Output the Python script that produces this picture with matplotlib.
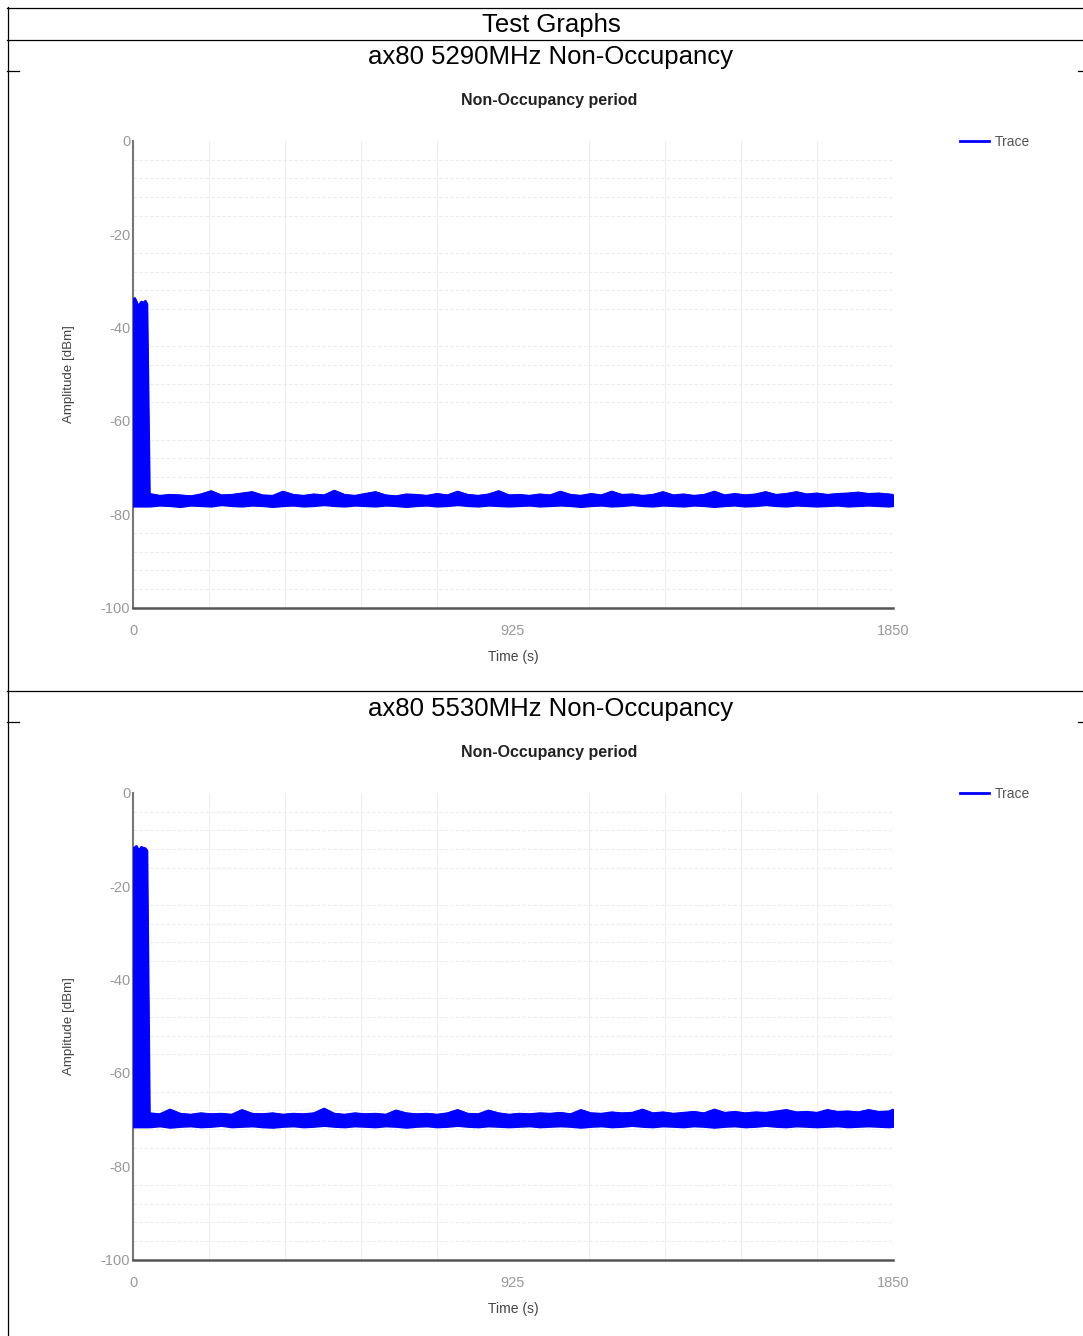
import numpy as np
import matplotlib
matplotlib.use("Agg")
import matplotlib.pyplot as plt
from matplotlib.lines import Line2D

plt.rcParams['font.family'] = ['Liberation Sans', 'DejaVu Sans']

# ---------------- data ----------------
page_title = "Test Graphs"
section_titles = ["ax80 5290MHz Non-Occupancy", "ax80 5530MHz Non-Occupancy"]
chart_title = "Non-Occupancy period"
x_label = "Time (s)"
y_label = "Amplitude [dBm]"
legend_label = "Trace"
x_ticks = [0, 925, 1850]
y_ticks = [0, -20, -40, -60, -80, -100]

# burst (first seconds) sample times and upper envelope
burst_t = [0, 4, 8, 12, 16, 20, 25, 30, 34]
burst_hi_1 = [-34.0, -33.6, -34.3, -35.3, -34.8, -34.4, -34.6, -34.2, -34.9]
burst_hi_2 = [-11.8, -11.6, -11.3, -11.9, -12.0, -11.5, -11.7, -11.8, -12.3]

# noise-floor sample times (s)
noise_t = list(range(40, 1841, 25)) + [1850]

noise_hi_1 = [-75.6, -76.0, -75.8, -75.9, -76.1, -75.7, -75.0, -75.9, -75.8, -75.5,
              -75.2, -75.9, -76.0, -75.1, -75.8, -76.0, -75.7, -75.9, -74.9, -75.8,
              -76.0, -75.6, -75.2, -75.9, -76.1, -75.7, -75.8, -76.0, -75.6, -75.9,
              -75.1, -75.8, -76.0, -75.7, -75.0, -75.9, -75.8, -76.0, -75.7, -75.9,
              -75.1, -75.8, -76.0, -75.6, -75.9, -75.1, -75.8, -75.7, -76.0, -75.8,
              -75.2, -75.9, -75.7, -76.0, -75.8, -75.1, -75.9, -75.6, -75.9, -75.7,
              -75.2, -75.8, -75.6, -75.2, -75.7, -75.5, -75.8, -75.6, -75.5, -75.3,
              -75.6, -75.5, -75.7, -75.8]
noise_lo_1 = [-78.3, -78.1, -78.2, -78.4, -78.1, -78.2, -78.3, -78.0, -78.2, -78.3,
              -78.1, -78.2, -78.4, -78.2, -78.1, -78.3, -78.2, -78.0, -78.2, -78.3,
              -78.1, -78.2, -78.3, -78.1, -78.2, -78.4, -78.2, -78.1, -78.3, -78.2,
              -78.0, -78.2, -78.3, -78.1, -78.2, -78.3, -78.2, -78.1, -78.3, -78.2,
              -78.1, -78.2, -78.4, -78.2, -78.1, -78.3, -78.2, -78.0, -78.2, -78.3,
              -78.1, -78.2, -78.3, -78.1, -78.2, -78.4, -78.2, -78.1, -78.3, -78.2,
              -78.0, -78.2, -78.3, -78.1, -78.2, -78.3, -78.2, -78.1, -78.3, -78.2,
              -78.1, -78.2, -78.3, -78.2]

noise_hi_2 = [-68.6, -68.8, -67.8, -68.7, -68.9, -68.6, -68.8, -68.7, -68.9, -67.9,
              -68.7, -68.8, -68.6, -68.9, -68.7, -68.8, -68.6, -67.6, -68.7, -68.9,
              -68.6, -68.8, -68.7, -68.9, -68.0, -68.6, -68.8, -68.7, -68.9, -68.6,
              -67.9, -68.7, -68.8, -68.0, -68.6, -68.9, -68.7, -68.8, -68.6, -68.7,
              -68.5, -68.8, -67.9, -68.6, -68.7, -68.4, -68.6, -68.5, -67.8, -68.6,
              -68.4, -68.7, -68.5, -68.3, -68.6, -67.8, -68.5, -68.3, -68.6, -68.4,
              -68.5, -68.2, -67.9, -68.4, -68.3, -68.5, -67.9, -68.3, -68.2, -68.4,
              -67.9, -68.3, -68.2, -67.8]
noise_lo_2 = [-71.6, -71.4, -71.7, -71.5, -71.4, -71.6, -71.5, -71.3, -71.6, -71.5,
              -71.4, -71.6, -71.7, -71.5, -71.4, -71.6, -71.5, -71.3, -71.5, -71.6,
              -71.4, -71.5, -71.6, -71.4, -71.5, -71.7, -71.5, -71.4, -71.6, -71.5,
              -71.3, -71.5, -71.6, -71.4, -71.5, -71.6, -71.5, -71.4, -71.6, -71.5,
              -71.4, -71.5, -71.7, -71.5, -71.4, -71.6, -71.5, -71.3, -71.5, -71.6,
              -71.4, -71.5, -71.6, -71.4, -71.5, -71.7, -71.5, -71.4, -71.6, -71.5,
              -71.3, -71.5, -71.6, -71.4, -71.5, -71.6, -71.5, -71.4, -71.6, -71.5,
              -71.4, -71.5, -71.6, -71.5]

series = [
    (burst_hi_1, noise_hi_1, noise_lo_1),
    (burst_hi_2, noise_hi_2, noise_lo_2),
]

# ---------------- figure ----------------
W, H = 1083, 1336
fig = plt.figure(figsize=(W / 100, H / 100), dpi=100)
fig.patch.set_facecolor('white')


def fx(x):
    return x / W


def fy(y):
    return 1 - y / H


def hline(y, x0, x1):
    fig.add_artist(Line2D([fx(x0), fx(x1)], [fy(y), fy(y)], transform=fig.transFigure,
                          color='black', lw=0.9))


def vline(x, y0, y1):
    fig.add_artist(Line2D([fx(x), fx(x)], [fy(y0), fy(y1)], transform=fig.transFigure,
                          color='black', lw=0.9))


# table lines
hline(7.5, 7, W)
hline(39.5, 7, W)
hline(690.5, 7, W)
vline(7.5, 7, H)
for yy in (70.5, 721.5):
    hline(yy, 7, 19)
    hline(yy, 1078, W)

fig.text(fx(551), fy(25), page_title, ha='center', va='center', fontsize=18.5, color='black')

offsets = [0, 652]
for k, (bhi, nhi, nlo) in enumerate(series):
    off = offsets[k]
    fig.text(fx(551), fy(57 + off), section_titles[k], ha='center', va='center',
             fontsize=18.5, color='black')
    fig.text(fx(549), fy(100 + off), chart_title, ha='center', va='center',
             fontsize=11.5, fontweight='bold', color='#222222')

    top, bot = 141 + off, 607.5 + off
    ax = fig.add_axes([fx(133), fy(bot), fx(893) - fx(133), fy(top) - fy(bot)])
    t = burst_t + noise_t
    hi = bhi + nhi
    lo = [nlo[0]] * len(burst_t) + nlo
    ax.fill_between(t, lo, hi, color='#0000ff', lw=1.2, edgecolor='#0000ff', zorder=3)
    ax.plot(t, hi, color='#0000ff', lw=1.0, zorder=3)

    ax.set_xlim(0, 1850)
    ax.set_ylim(-100, 0)
    ax.set_xticks(x_ticks)
    ax.set_yticks(y_ticks)
    ax.set_xticklabels([str(v) for v in x_ticks])
    ax.set_yticklabels([str(v) for v in y_ticks])
    ax.set_xticks(np.arange(0, 1851, 185), minor=True)
    ax.set_yticks(np.arange(-100, 1, 4), minor=True)
    ax.grid(which='minor', axis='x', color='#eeeeee', lw=0.8)
    ax.grid(which='minor', axis='y', color='#ececec', lw=0.8, ls=(0, (3, 2)))
    ax.grid(which='major', visible=False)
    ax.tick_params(which='both', length=0)
    ax.tick_params(axis='x', pad=12, labelsize=10.5, labelcolor='#999999')
    ax.tick_params(axis='y', pad=2, labelsize=10.5, labelcolor='#999999')
    for s in ('top', 'right'):
        ax.spines[s].set_visible(False)
    ax.spines['left'].set_color('#777777')
    ax.spines['left'].set_linewidth(1.5)
    ax.spines['bottom'].set_color('#555555')
    ax.spines['bottom'].set_linewidth(1.8)
    ax.set_axisbelow(True)

    fig.text(fx(513), fy(657 + off), x_label, ha='center', va='center',
             fontsize=10, color='#444444')
    fig.text(fx(69), fy(374 + off), y_label, ha='center', va='center', rotation=90,
             fontsize=9.6, color='#444444')

    h = Line2D([], [], color='#0000ff', lw=2)
    ax.legend(handles=[h], labels=[legend_label], loc='center left',
              bbox_to_anchor=(fx(953), fy(142 + off)), bbox_transform=fig.transFigure,
              frameon=False, handlelength=2.1, handletextpad=0.4, borderpad=0,
              fontsize=10, labelcolor='#555555')

fig.savefig('out.png', dpi=100, facecolor='white')
